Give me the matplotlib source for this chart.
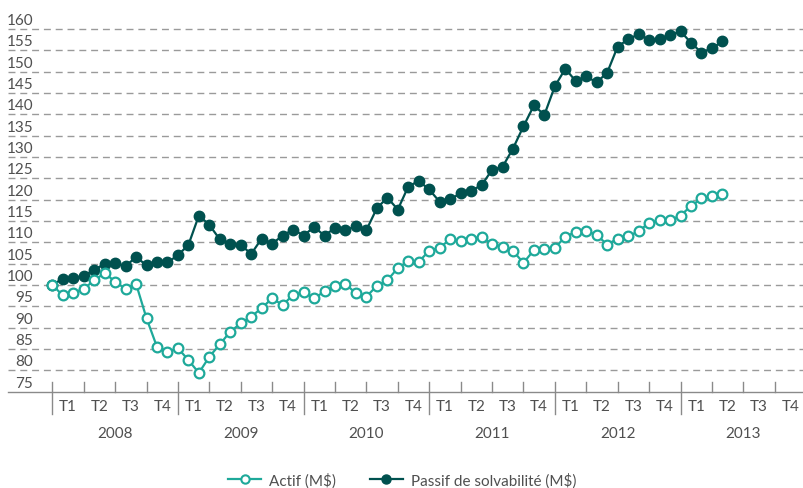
import matplotlib
matplotlib.use("Agg")
import matplotlib.pyplot as plt
from matplotlib.lines import Line2D

plt.rcParams['font.family'] = ['Lato', 'DejaVu Sans']

# Monthly index values, Jan 2008 -> May 2013
actif = [100.0, 97.6, 98.2, 99.1, 101.1, 102.8, 100.8, 99.1, 100.3, 92.2,
         85.5, 84.4, 85.2, 82.4, 79.4, 83.2, 86.1, 89.1, 91.0, 92.6,
         94.6, 96.9, 95.3, 97.7, 98.3, 96.9, 98.5, 99.8, 100.2, 98.1,
         97.3, 99.8, 101.1, 104.0, 105.6, 105.5, 108.0, 108.8, 110.7, 110.3,
         110.9, 111.3, 109.6, 109.0, 108.0, 105.2, 108.2, 108.5, 108.75, 111.3,
         112.5, 112.7, 111.7, 109.5, 110.9, 111.4, 112.6, 114.6, 115.2, 115.2,
         116.3, 118.5, 120.3, 120.9, 121.4]
passif = [100.0, 101.5, 101.6, 102.2, 103.5, 105.0, 105.2, 104.4, 106.6, 104.6,
          105.3, 105.3, 107.0, 109.4, 116.3, 114.1, 110.7, 109.7, 109.4, 107.3,
          110.9, 109.7, 111.6, 113.0, 111.6, 113.6, 111.6, 113.4, 112.9, 113.75,
          112.9, 118.0, 120.5, 117.7, 123.1, 124.4, 122.4, 119.5, 120.1, 121.5,
          122.1, 123.4, 127.0, 127.7, 132.0, 137.2, 142.1, 139.9, 146.6, 150.7,
          147.8, 148.9, 147.5, 149.8, 155.9, 157.6, 158.8, 157.5, 157.6, 158.5,
          159.5, 156.8, 154.5, 155.5, 157.1]
years = ['2008', '2009', '2010', '2011', '2012', '2013']
quarters = ['T1', 'T2', 'T3', 'T4']
y_ticks = list(range(75, 161, 5))
series_labels = ['Actif (M$)', 'Passif de solvabilité (M$)']

GREEN = '#1ea99a'
DARK = '#00514f'
GRID = '#9a9a9a'
AXIS = '#8a8a8a'
TEXT = '#505050'

W, H = 804, 489
fig = plt.figure(figsize=(W / 100, H / 100), dpi=100)
left_px, bottom_px = 8, 489 - 392.7
ax = fig.add_axes([left_px / W, bottom_px / H, 1 - left_px / W, 1 - bottom_px / H])
px_per_month = 10.47
x0_px = 52.3
ax.set_xlim(-(x0_px - left_px) / px_per_month, (W - x0_px) / px_per_month)
ax.set_ylim(75, 75 + 392.7 / (21.33 / 5))
ax.axis('off')

xs = list(range(len(actif)))

# grid lines
for v in y_ticks:
    if v == 75:
        ax.axhline(v, color=AXIS, lw=1.0, zorder=1, clip_on=False)
    else:
        ax.axhline(v, color=GRID, lw=1.0, ls=(0, (5, 3.5)), zorder=1)
    ax.text(0.0314, v + 0.5, str(v), transform=ax.get_yaxis_transform(),
            ha='right', va='bottom', fontsize=11, color=TEXT)

ax.plot(xs, passif, color=DARK, lw=1.6, marker='o', ms=7.5, mfc=DARK, mec=DARK, zorder=3)
ax.plot(xs, actif, color=GREEN, lw=1.6, marker='o', ms=7.0, mfc='white', mec=GREEN,
        mew=1.6, zorder=4)

# x axis ticks and labels
pt = 4.267  # px per unit in y
for k in range(len(years)):
    for q in range(4):
        m = 12 * k + 3 * q
        if q == 0:
            ax.plot([m, m], [75 + 10 / pt, 75 - 22 / pt], color=AXIS, lw=1.0,
                    clip_on=False, zorder=2)
        else:
            ax.plot([m, m], [75 + 10 / pt, 75], color=AXIS, lw=1.0, clip_on=False, zorder=2)
        ax.text(m + 1.5, 75 - 14 / pt, quarters[q], ha='center', va='center',
                fontsize=11, color=TEXT, clip_on=False)
    ax.text(12 * k + 6, 75 - 41 / pt, years[k], ha='center', va='center',
            fontsize=11, color=TEXT, clip_on=False)

handles = [Line2D([], [], color=GREEN, lw=1.6, marker='o', ms=6, mfc='white', mec=GREEN, mew=1.5),
           Line2D([], [], color=DARK, lw=1.6, marker='o', ms=6.5, mfc=DARK, mec=DARK)]
fig.legend(handles, series_labels, loc='center', bbox_to_anchor=(0.5, 1 - 481 / H),
           ncol=2, frameon=False, fontsize=11, labelcolor=TEXT, handlelength=2.2,
           columnspacing=2.2, handletextpad=0.5)

fig.savefig('out.png', dpi=100)
